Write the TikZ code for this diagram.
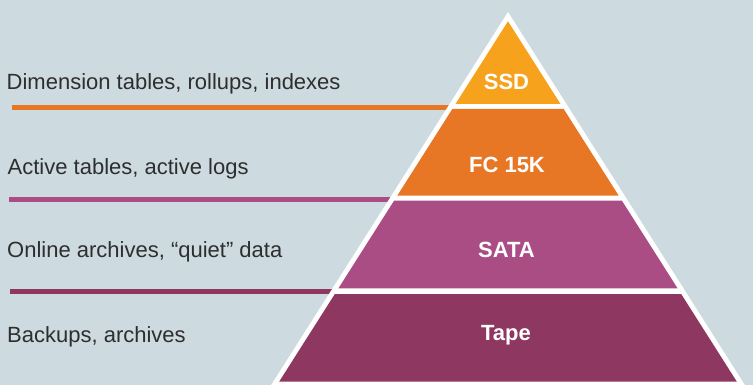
\documentclass[tikz,border=0pt]{standalone}
\usepackage{fontspec}
\setmainfont{Liberation Sans}

\definecolor{bg}{HTML}{CDDAE0}
\definecolor{ssdcol}{HTML}{F7A21D}
\definecolor{fccol}{HTML}{E87725}
\definecolor{satacol}{HTML}{A94D84}
\definecolor{tapecol}{HTML}{8E3760}
\definecolor{txt}{HTML}{2E2E2E}

% half-width of the inner (coloured) pyramid at height y
\newcommand{\hw}[1]{0.635*(#1-21.3)}
% one pyramid tier between heights #1 and #2
\newcommand{\tierpath}[2]{({508-\hw{#1}},#1) -- ({508+\hw{#1}},#1) -- ({508+\hw{#2}},#2) -- ({508-\hw{#2}},#2) -- cycle}

\tikzset{
  tier/.style={fill=#1, draw=none},
  leader/.style={draw=#1, line width=5pt},
  sidetext/.style={anchor=base west, inner sep=0pt, text=txt, font=\fontsize{22}{26}\selectfont},
  tiertext/.style={anchor=base, inner sep=0pt, text=white, font=\fontsize{22}{26}\selectfont\bfseries},
}

\begin{document}
\begin{tikzpicture}[x=1pt, y=-1pt]
  \fill[bg] (0,0) rectangle (753,385);
  \useasboundingbox (0,0) rectangle (753,385);

  % leader lines running from the left margin into the pyramid edge
  \coordinate (l1s) at (12,107.5);  \coordinate (l1e) at (452,107.5);
  \coordinate (l2s) at (9,199.3);   \coordinate (l2e) at (394,199.3);
  \coordinate (l3s) at (10,291.5);  \coordinate (l3e) at (335,291.5);
  \draw[leader=fccol]   (l1s) -- (l1e);
  \draw[leader=satacol] (l2s) -- (l2e);
  \draw[leader=tapecol] (l3s) -- (l3e);

  % white pyramid body
  \fill[white] (508,12) -- (748,390) -- (268,390) -- cycle;

  % coloured tiers
  \fill[tier=ssdcol] (508,21.3) -- ({508+\hw{104}},104) -- ({508-\hw{104}},104) -- cycle;
  \fill[tier=fccol]   \tierpath{109}{195.7};
  \fill[tier=satacol] \tierpath{200.7}{288.3};
  \fill[tier=tapecol] \tierpath{294}{381.7};

  % tier labels
  \node[tiertext] (ssd)  at (506.5,90)    {SSD};
  \node[tiertext] (fc)   at (507,172.7)   {FC 15K};
  \node[tiertext] (sata) at (506.5,257.7) {SATA};
  \node[tiertext] (tape) at (506,340.7)   {Tape};

  % descriptions on the left
  \node[sidetext] (t1) at (6.5,89.3)  {Dimension tables, rollups, indexes};
  \node[sidetext] (t2) at (7.5,174.3) {Active tables, active logs};
  \node[sidetext] (t3) at (7,257.7)   {Online archives, “quiet” data};
  \node[sidetext] (t4) at (7,342.3)   {Backups, archives};
\end{tikzpicture}
\end{document}
